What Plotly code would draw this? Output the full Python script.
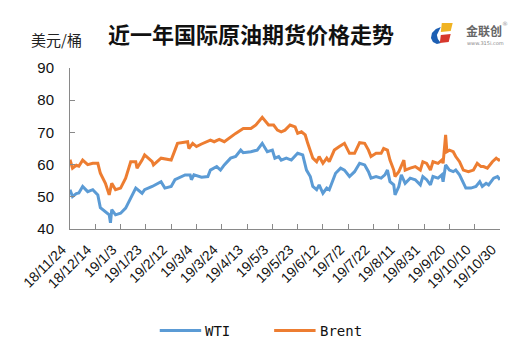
import plotly.graph_objects as go

# ---------------- data ----------------
wti_dates = [
    "2018-11-24", "2018-11-26", "2018-11-29", "2018-12-01", "2018-12-04", "2018-12-08", "2018-12-12",
    "2018-12-16", "2018-12-18", "2018-12-22", "2018-12-25", "2018-12-26", "2018-12-27", "2018-12-30",
    "2019-01-03", "2019-01-07", "2019-01-12", "2019-01-15", "2019-01-20", "2019-01-22", "2019-01-28",
    "2019-02-04", "2019-02-07", "2019-02-12", "2019-02-15", "2019-02-23", "2019-02-27", "2019-02-28",
    "2019-03-02", "2019-03-08", "2019-03-13", "2019-03-15", "2019-03-20", "2019-03-23", "2019-03-26",
    "2019-03-31", "2019-04-04", "2019-04-08", "2019-04-10", "2019-04-16", "2019-04-21", "2019-04-25",
    "2019-04-29", "2019-05-03", "2019-05-05", "2019-05-08", "2019-05-10", "2019-05-14", "2019-05-18",
    "2019-05-21", "2019-05-23", "2019-05-27", "2019-05-30", "2019-06-02", "2019-06-04", "2019-06-07",
    "2019-06-09", "2019-06-12", "2019-06-15", "2019-06-17", "2019-06-20", "2019-06-22", "2019-06-26",
    "2019-06-29", "2019-07-03", "2019-07-07", "2019-07-11", "2019-07-15", "2019-07-18", "2019-07-20",
    "2019-07-24", "2019-07-28", "2019-07-31", "2019-08-02", "2019-08-04", "2019-08-07", "2019-08-08",
    "2019-08-11", "2019-08-13", "2019-08-16", "2019-08-20", "2019-08-24", "2019-08-28", "2019-08-30",
    "2019-09-02", "2019-09-05", "2019-09-07", "2019-09-11", "2019-09-14", "2019-09-15", "2019-09-17",
    "2019-09-20", "2019-09-23", "2019-09-25", "2019-09-28", "2019-10-01", "2019-10-03", "2019-10-07",
    "2019-10-11", "2019-10-14", "2019-10-16", "2019-10-19", "2019-10-21", "2019-10-25", "2019-10-28",
    "2019-10-30",
]
wti_values = [
    52.2, 50.1, 51.0, 51.2, 53.2, 51.6, 52.2,
    50.6, 46.6, 45.5, 44.4, 41.9, 46.0, 44.4,
    44.9, 46.5, 50.1, 52.7, 51.1, 52.2, 53.2,
    54.7, 52.7, 53.2, 55.3, 56.8, 56.8, 55.3,
    56.8, 56.1, 56.3, 58.3, 59.4, 58.3, 59.9,
    62.0, 62.5, 64.5, 63.7, 64.0, 64.5, 66.6,
    64.0, 64.5, 62.0, 62.5, 61.4, 62.0, 61.4,
    62.5, 63.5, 63.0, 58.3, 56.3, 53.2, 52.2,
    53.7, 51.1, 52.7, 52.2, 55.3, 57.3, 58.9,
    58.3, 56.3, 57.8, 60.4, 59.9, 57.8, 55.8,
    56.3, 55.8, 56.8, 58.3, 54.7, 53.7, 50.6,
    53.2, 56.8, 54.2, 55.8, 55.3, 53.7, 56.3,
    55.3, 53.7, 56.3, 55.8, 56.8, 54.7, 59.9,
    58.3, 57.8, 58.3, 56.8, 54.2, 52.7, 52.7,
    53.2, 54.7, 53.2, 54.2, 53.7, 55.8, 56.3,
    55.3,
]

brent_dates = [
    "2018-11-24", "2018-11-26", "2018-11-29", "2018-12-01", "2018-12-04", "2018-12-08", "2018-12-12",
    "2018-12-16", "2018-12-18", "2018-12-22", "2018-12-25", "2018-12-27", "2018-12-30",
    "2019-01-03", "2019-01-07", "2019-01-11", "2019-01-15", "2019-01-16", "2019-01-20", "2019-01-22",
    "2019-01-28", "2019-01-29", "2019-02-04", "2019-02-12", "2019-02-15", "2019-02-17", "2019-02-25",
    "2019-02-26", "2019-03-01", "2019-03-04", "2019-03-08", "2019-03-13", "2019-03-15", "2019-03-18",
    "2019-03-22", "2019-03-26", "2019-03-31", "2019-04-04", "2019-04-10", "2019-04-16", "2019-04-20",
    "2019-04-25", "2019-04-30", "2019-05-04", "2019-05-07", "2019-05-10", "2019-05-13", "2019-05-17",
    "2019-05-21", "2019-05-23", "2019-05-26", "2019-05-29", "2019-05-31", "2019-06-03", "2019-06-04",
    "2019-06-07", "2019-06-09", "2019-06-12", "2019-06-15", "2019-06-17", "2019-06-21", "2019-06-25",
    "2019-06-29", "2019-07-03", "2019-07-07", "2019-07-11", "2019-07-15", "2019-07-18", "2019-07-20",
    "2019-07-24", "2019-07-28", "2019-07-30", "2019-08-02", "2019-08-04", "2019-08-07", "2019-08-08",
    "2019-08-11", "2019-08-15", "2019-08-16", "2019-08-20", "2019-08-24", "2019-08-28", "2019-08-30",
    "2019-09-02", "2019-09-05", "2019-09-07", "2019-09-11", "2019-09-14", "2019-09-15", "2019-09-17",
    "2019-09-18", "2019-09-20", "2019-09-23", "2019-09-25", "2019-09-28", "2019-10-01", "2019-10-05",
    "2019-10-09", "2019-10-12", "2019-10-15", "2019-10-17", "2019-10-20", "2019-10-24", "2019-10-27",
    "2019-10-29", "2019-10-30",
]
brent_values = [
    61.5, 58.9, 59.8, 59.5, 61.4, 60.0, 60.4,
    60.4, 57.3, 54.2, 50.6, 54.2, 52.2,
    52.7, 55.8, 60.9, 60.9, 58.9, 61.4, 63.0,
    60.9, 59.9, 62.0, 61.4, 64.5, 66.6, 67.1,
    65.0, 66.6, 65.6, 66.4, 67.1, 67.6, 67.1,
    67.8, 67.1, 68.7, 69.7, 71.2, 71.2, 72.3,
    74.7, 72.3, 72.3, 70.7, 70.2, 70.7, 72.3,
    71.7, 69.7, 70.2, 69.2, 66.6, 63.5, 62.0,
    60.9, 62.5, 60.4, 62.0, 60.9, 64.5, 65.6,
    66.6, 63.5, 63.5, 66.8, 66.6, 64.5, 62.5,
    63.5, 63.5, 65.0, 64.5, 61.4, 58.3, 56.3,
    57.8, 61.4, 58.3, 58.9, 59.4, 58.3, 60.9,
    60.4, 58.3, 60.9, 60.4, 61.4, 60.4, 69.2,
    64.0, 64.5, 64.0, 62.5, 60.9, 58.3, 57.8,
    58.3, 60.4, 59.4, 59.4, 58.9, 60.9, 62.0,
    61.4, 61.6,
]

tick_dates = [
    "2018-11-24", "2018-12-14", "2019-01-03", "2019-01-23", "2019-02-12", "2019-03-04",
    "2019-03-24", "2019-04-13", "2019-05-03", "2019-05-23", "2019-06-12", "2019-07-02",
    "2019-07-22", "2019-08-11", "2019-08-31", "2019-09-20", "2019-10-10", "2019-10-30",
]
tick_labels = [
    "18/11/24", "18/12/14", "19/1/3", "19/1/23", "19/2/12", "19/3/4",
    "19/3/24", "19/4/13", "19/5/3", "19/5/23", "19/6/12", "19/7/2",
    "19/7/22", "19/8/11", "19/8/31", "19/9/20", "19/10/10", "19/10/30",
]
y_ticks = [40, 50, 60, 70, 80, 90]
series_names = ["WTI", "Brent"]
title_text = "近一年国际原油期货价格走势"
unit_text = "美元/桶"

# ---------------- layout helpers ----------------
# The page body has an 8px default margin, so the figure is 8px smaller
# and every page-pixel position below is measured in the page (window) frame.
BODY = 8
W, H = 532 - BODY, 356 - BODY
PLOT_L, PLOT_R, PLOT_T, PLOT_B = 64, 500, 68, 229   # page pixels of plot area
PW, PH = PLOT_R - PLOT_L, PLOT_B - PLOT_T


def px(x):
    return (x - PLOT_L) / PW


def py(y):
    return (PLOT_B - y) / PH


BLUE = "#5B9BD5"
ORANGE = "#ED7D31"
AXIS = "#898989"

fig = go.Figure()
fig.add_trace(go.Scatter(x=wti_dates, y=wti_values, mode="lines", name=series_names[0],
                         line=dict(color=BLUE, width=3), showlegend=False))
fig.add_trace(go.Scatter(x=brent_dates, y=brent_values, mode="lines", name=series_names[1],
                         line=dict(color=ORANGE, width=3), showlegend=False))

shapes = []
annotations = []

# manual legend
for (x0, color, name) in [(155, BLUE, series_names[0]), (271, ORANGE, series_names[1])]:
    shapes.append(dict(type="line", xref="paper", yref="paper",
                       x0=px(x0), x1=px(x0 + 42), y0=py(330.5), y1=py(330.5),
                       line=dict(color=color, width=3)))
    annotations.append(dict(xref="paper", yref="paper", x=px(x0 + 44), y=py(331),
                            xanchor="left", yanchor="middle", showarrow=False, text=name,
                            font=dict(family="DejaVu Sans Mono", size=14, color="#111")))

# title and unit
annotations.append(dict(xref="paper", yref="paper", x=px(248), y=py(33), xanchor="center",
                        yanchor="middle", showarrow=False, text="<b>" + title_text + "</b>",
                        font=dict(family="Noto Sans CJK SC", size=22, color="#111")))
annotations.append(dict(xref="paper", yref="paper", x=px(22), y=py(40), xanchor="left",
                        yanchor="middle", showarrow=False, text=unit_text,
                        font=dict(family="Noto Sans CJK SC", size=15, color="#222")))


# logo
def path(points):
    return "M " + " L ".join(f"{px(a):.5f},{py(b):.5f}" for a, b in points) + " Z"


shapes.append(dict(type="path", xref="paper", yref="paper", line=dict(width=0), fillcolor="#1d5fb3",
                   path=path([(440, 27), (435, 29), (431, 33), (430, 38), (432, 42), (436, 44),
                              (440, 43), (437, 39), (436, 35), (438, 31)])))
shapes.append(dict(type="path", xref="paper", yref="paper", line=dict(width=0), fillcolor="#f0b323",
                   path=path([(441, 23), (452, 23), (450, 31), (440, 32)])))
shapes.append(dict(type="path", xref="paper", yref="paper", line=dict(width=0), fillcolor="#d7372c",
                   path=path([(440, 35), (450, 34), (448, 42), (439, 43)])))
annotations.append(dict(xref="paper", yref="paper", x=px(464), y=py(31), xanchor="left",
                        yanchor="middle", showarrow=False, text="<b>金联创</b>",
                        font=dict(family="Noto Sans CJK SC", size=12, color="#666")))
annotations.append(dict(xref="paper", yref="paper", x=px(465), y=py(43), xanchor="left",
                        yanchor="middle", showarrow=False, text="www.315i.com",
                        font=dict(family="DejaVu Sans", size=5, color="#888")))
annotations.append(dict(xref="paper", yref="paper", x=px(505), y=py(24), xanchor="center",
                        yanchor="middle", showarrow=False, text="®",
                        font=dict(family="DejaVu Sans", size=6, color="#999")))

fig.update_layout(
    width=W, height=H,
    margin=dict(l=PLOT_L - BODY, r=532 - PLOT_R, t=PLOT_T - BODY, b=356 - PLOT_B, pad=0),
    paper_bgcolor="white", plot_bgcolor="white",
    showlegend=False,
    shapes=shapes, annotations=annotations,
    xaxis=dict(type="date", range=[tick_dates[0], tick_dates[-1]],
               tickvals=tick_dates, ticktext=tick_labels, tickangle=-45,
               showgrid=False, zeroline=False, showline=True, linecolor=AXIS, linewidth=1,
               ticks="inside", ticklen=5, tickcolor=AXIS,
               ticklabelshift=-8, ticklabelstandoff=6,
               tickfont=dict(family="Liberation Sans", size=14, color="#111")),
    yaxis=dict(range=[40, 90], tickvals=y_ticks, ticktext=[str(v) for v in y_ticks],
               showgrid=False, zeroline=False, showline=True, linecolor=AXIS, linewidth=1,
               ticks="inside", ticklen=5, tickcolor=AXIS, ticklabelstandoff=12,
               tickfont=dict(family="Liberation Sans", size=15, color="#111")),
)

fig.write_html("out.html")
